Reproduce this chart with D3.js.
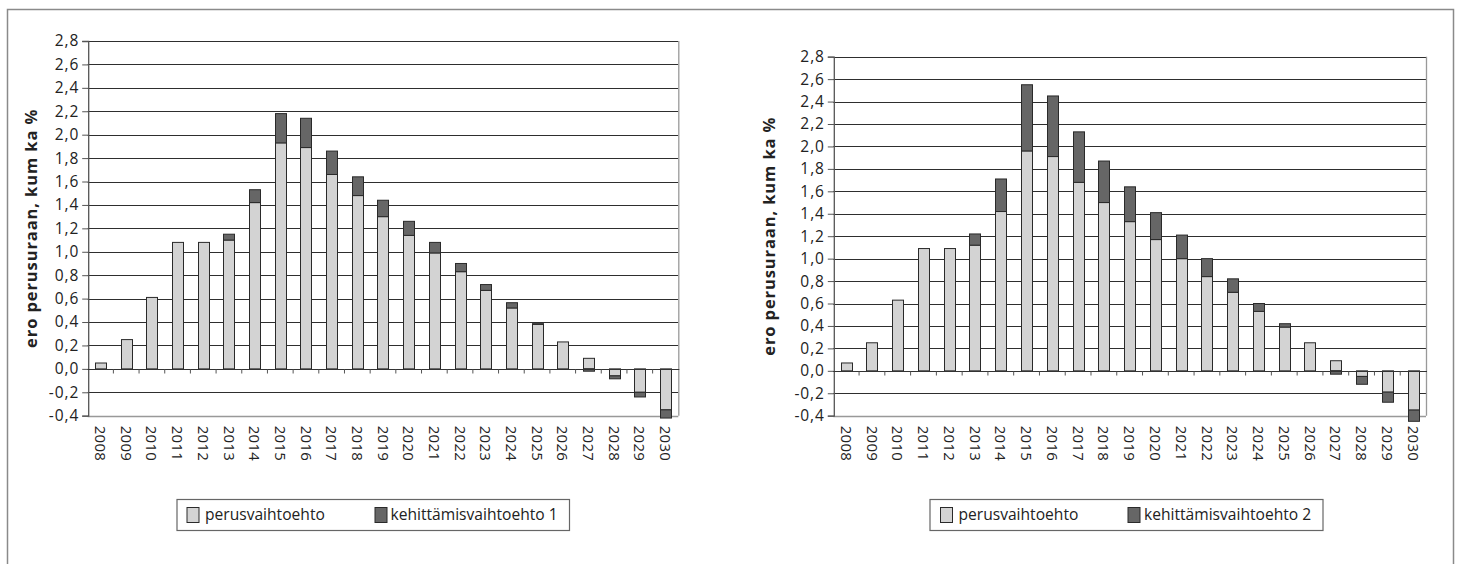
<!DOCTYPE html>
<html lang="fi">
<head>
<meta charset="utf-8">
<script src="https://cdn.jsdelivr.net/npm/d3@7"></script>
<style>
  html, body { margin: 0; padding: 0; background: #fff; }
  svg { display: block; font-family: "Open Sans", "Noto Sans", sans-serif; }
</style>
</head>
<body>
<svg id="chart" width="1461" height="564"></svg>
<script>
// Vuodet ja ero perusuraan (kumulatiivinen, %)
const years = d3.range(2008, 2031).map(String);

// Vasen kuvio: perusvaihtoehto + kehittämisvaihtoehto 1
const perus1 = [0.05, 0.25, 0.61, 1.08, 1.08, 1.10, 1.42, 1.93, 1.89, 1.66, 1.48, 1.30,
                1.14, 0.99, 0.83, 0.67, 0.52, 0.38, 0.23, 0.09, -0.06, -0.20, -0.35];
const kehitys1 = [0, 0, 0, 0, 0, 0.05, 0.11, 0.25, 0.25, 0.20, 0.16, 0.14,
                  0.12, 0.09, 0.07, 0.05, 0.045, 0.006, 0, -0.02, -0.025, -0.04, -0.07];

// Oikea kuvio: perusvaihtoehto + kehittämisvaihtoehto 2
const perus2 = [0.07, 0.25, 0.63, 1.09, 1.09, 1.12, 1.42, 1.96, 1.91, 1.68, 1.50, 1.33,
                1.17, 1.00, 0.84, 0.70, 0.53, 0.39, 0.25, 0.09, -0.05, -0.19, -0.35];
const kehitys2 = [0, 0, 0, 0, 0, 0.10, 0.29, 0.59, 0.54, 0.45, 0.37, 0.31,
                  0.24, 0.21, 0.16, 0.12, 0.07, 0.03, 0, -0.03, -0.07, -0.09, -0.10];

const yTicks = [-0.4, -0.2, 0, 0.2, 0.4, 0.6, 0.8, 1.0, 1.2, 1.4, 1.6, 1.8, 2.0, 2.2, 2.4, 2.6, 2.8];
const yTitle = "ero perusuraan, kum ka %";
const seriesNames1 = ["perusvaihtoehto", "kehittämisvaihtoehto 1"];
const seriesNames2 = ["perusvaihtoehto", "kehittämisvaihtoehto 2"];

const fi = d3.formatLocale({decimal: ",", thousands: "\u00a0", grouping: [3], currency: ["", " €"], minus: "-"});
const fmt = fi.format(".1f");

const colors = {light: "#d3d3d3", dark: "#666666", edge: "#2a2a2a", grid: "#2e2e2e", frame: "#8a8a8a", text: "#222"};

const svg = d3.select("#chart");

// Ulkokehys
svg.append("rect")
  .attr("x", 7.5).attr("y", 9.5).attr("width", 1446).attr("height", 600)
  .attr("fill", "none").attr("stroke", colors.frame).attr("stroke-width", 1.5);

function drawChart(opt) {
  const g = svg.append("g");
  const x = d3.scaleBand().domain(years).range([opt.x0, opt.x1]).paddingInner(0.57).paddingOuter(0.285);
  const y = d3.scaleLinear().domain([-0.4, 2.8]).range([opt.yBottom, opt.yTop]);

  // Vaakaviivat
  g.append("g").selectAll("line")
    .data(yTicks.filter(v => v > -0.4 + 1e-9))
    .join("line")
    .attr("x1", opt.x0).attr("x2", opt.x1)
    .attr("y1", d => Math.round(y(d)) + 0.5).attr("y2", d => Math.round(y(d)) + 0.5)
    .attr("stroke", colors.grid).attr("stroke-width", 1);

  // Kuvioalueen reunat
  g.append("line").attr("x1", opt.x1 + 0.5).attr("x2", opt.x1 + 0.5)
    .attr("y1", y(2.8)).attr("y2", y(-0.4)).attr("stroke", "#999").attr("stroke-width", 1.3);
  g.append("line").attr("x1", opt.x0).attr("x2", opt.x1)
    .attr("y1", Math.round(y(-0.4)) + 0.5).attr("y2", Math.round(y(-0.4)) + 0.5)
    .attr("stroke", "#999").attr("stroke-width", 1.3);

  // Pinotut pylväät
  const rows = years.map((yr, i) => ({year: yr, base: opt.base[i], dev: opt.dev[i]}));
  const stack = d3.stack().keys(["base", "dev"]).offset(d3.stackOffsetDiverging);
  const layers = stack(rows);
  const fills = [colors.light, colors.dark];
  layers.forEach((layer, li) => {
    g.append("g").selectAll("rect")
      .data(layer.filter(d => Math.abs(d[1] - d[0]) > 1e-9))
      .join("rect")
      .attr("x", d => Math.round(x(d.data.year)) + 0.5)
      .attr("width", Math.round(x.bandwidth()))
      .attr("y", d => y(Math.max(d[0], d[1])))
      .attr("height", d => Math.abs(y(d[0]) - y(d[1])))
      .attr("fill", fills[li])
      .attr("stroke", colors.edge).attr("stroke-width", 1);
  });

  // Y-akseli
  const yAxis = d3.axisLeft(y).tickValues(yTicks).tickFormat(fmt).tickSize(6).tickPadding(3);
  const ya = g.append("g").attr("transform", `translate(${opt.x0 + 0.5},0)`).call(yAxis);
  ya.select(".domain").attr("stroke", "#555").attr("stroke-width", 1.3);
  ya.selectAll(".tick line").attr("stroke", "#555");
  ya.selectAll(".tick text")
    .attr("font-family", "'Open Sans', sans-serif").attr("font-size", 15.5)
    .attr("letter-spacing", 0.9).attr("fill", colors.text);

  // X-akseli nollatasolla
  const y0 = Math.round(y(0)) + 0.5;
  g.append("line").attr("x1", opt.x0).attr("x2", opt.x1 + 1)
    .attr("y1", y0).attr("y2", y0).attr("stroke", "#333").attr("stroke-width", 1.2);
  const step = x.step();
  const gap = step - x.bandwidth();
  g.append("g").selectAll("line")
    .data(years.slice(1))
    .join("line")
    .attr("x1", d => x(d) - gap / 2).attr("x2", d => x(d) - gap / 2)
    .attr("y1", y0).attr("y2", y0 + 4)
    .attr("stroke", "#555");

  // Vuosinimikkeet pystyyn
  g.append("g").selectAll("text")
    .data(years)
    .join("text")
    .attr("transform", d => `translate(${x(d) + x.bandwidth() / 2},${opt.yBottom + 10}) rotate(90)`)
    .attr("dy", "0.36em")
    .attr("font-size", 15).attr("letter-spacing", 0.3).attr("fill", colors.text)
    .text(d => d);

  // Akselin otsikko
  g.append("text")
    .attr("transform", `translate(${opt.titleX},${(opt.yTop + opt.yBottom) / 2}) rotate(-90)`)
    .attr("text-anchor", "middle").attr("dy", "0.35em")
    .attr("font-weight", "bold").attr("font-size", 16.5).attr("letter-spacing", 0.9)
    .attr("fill", colors.text)
    .text(yTitle);

  // Selite
  const L = opt.legend;
  const lg = g.append("g");
  lg.append("rect").attr("x", L.x + 0.5).attr("y", 499.5).attr("width", L.w).attr("height", 31)
    .attr("fill", "#fff").attr("stroke", "#666").attr("stroke-width", 1.2);
  const items = [
    {name: opt.names[0], fill: colors.light, sx: L.s1, tx: L.t1},
    {name: opt.names[1], fill: colors.dark, sx: L.s2, tx: L.t2}
  ];
  items.forEach(it => {
    lg.append("rect").attr("x", it.sx + 0.5).attr("y", 507.5).attr("width", 12).attr("height", 15)
      .attr("fill", it.fill).attr("stroke", colors.edge).attr("stroke-width", 1);
    lg.append("text").attr("x", it.tx).attr("y", 515).attr("dy", "0.35em")
      .attr("font-size", 15.6).attr("fill", colors.text).text(it.name);
  });
}

drawChart({
  x0: 87.7, x1: 678.3, yTop: 41, yBottom: 415.7, titleX: 31,
  base: perus1, dev: kehitys1, names: seriesNames1,
  legend: {x: 176.5, w: 392.5, s1: 186.5, t1: 205, s2: 374.5, t2: 390.5}
});

drawChart({
  x0: 833.3, x1: 1426, yTop: 56.7, yBottom: 415.7, titleX: 769,
  base: perus2, dev: kehitys2, names: seriesNames2,
  legend: {x: 929.5, w: 393, s1: 940, t1: 958.5, s2: 1127.5, t2: 1144}
});
</script>
</body>
</html>
